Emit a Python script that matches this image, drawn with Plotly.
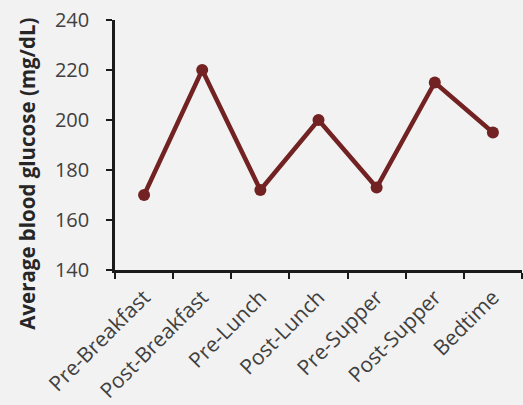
import plotly.graph_objects as go

# Average blood glucose by time of day
times = ["Pre-Breakfast", "Post-Breakfast", "Pre-Lunch", "Post-Lunch",
         "Pre-Supper", "Post-Supper", "Bedtime"]
glucose = [170, 220, 172, 200, 173, 215, 195]
y_ticks = [140, 160, 180, 200, 220, 240]

line_color = "#722222"
text_color = "#404040"
font_family = "Open Sans"

fig = go.Figure(
    go.Scatter(
        x=times,
        y=glucose,
        mode="lines+markers",
        line=dict(color=line_color, width=4.5),
        marker=dict(color=line_color, size=12),
        cliponaxis=False,
    )
)

fig.update_layout(
    width=523,
    height=405,
    margin=dict(l=115, r=1, t=20, b=133),
    paper_bgcolor="#f2f2f2",
    plot_bgcolor="#f2f2f2",
    showlegend=False,
    font=dict(family=font_family, color=text_color),
)

fig.update_xaxes(
    type="category",
    range=[-0.5, 6.5],
    tickson="boundaries",
    ticks="outside",
    ticklen=6,
    tickwidth=2,
    tickcolor="#1a1a1a",
    tickangle=-45,
    tickfont=dict(size=21, color=text_color),
    ticklabelstandoff=4,
    showline=True,
    linecolor="#1a1a1a",
    linewidth=2.5,
    showgrid=False,
    zeroline=False,
)

fig.update_yaxes(
    range=[140, 240],
    tickvals=y_ticks,
    ticks="outside",
    ticklen=6,
    tickwidth=2,
    tickcolor="#1a1a1a",
    tickfont=dict(size=20, color=text_color),
    ticklabelstandoff=13,
    showline=True,
    linecolor="#1a1a1a",
    linewidth=2.5,
    showgrid=False,
    zeroline=False,
)

fig.add_annotation(
    text="<b>Average blood glucose (mg/dL)</b>",
    textangle=-90,
    xref="paper",
    yref="paper",
    x=(27 - 115) / 407,
    y=0.5 - (175 - 146) / 252,
    xanchor="center",
    yanchor="middle",
    showarrow=False,
    font=dict(size=20.5, color="#262626", family=font_family),
)

fig.write_html("out.html")
